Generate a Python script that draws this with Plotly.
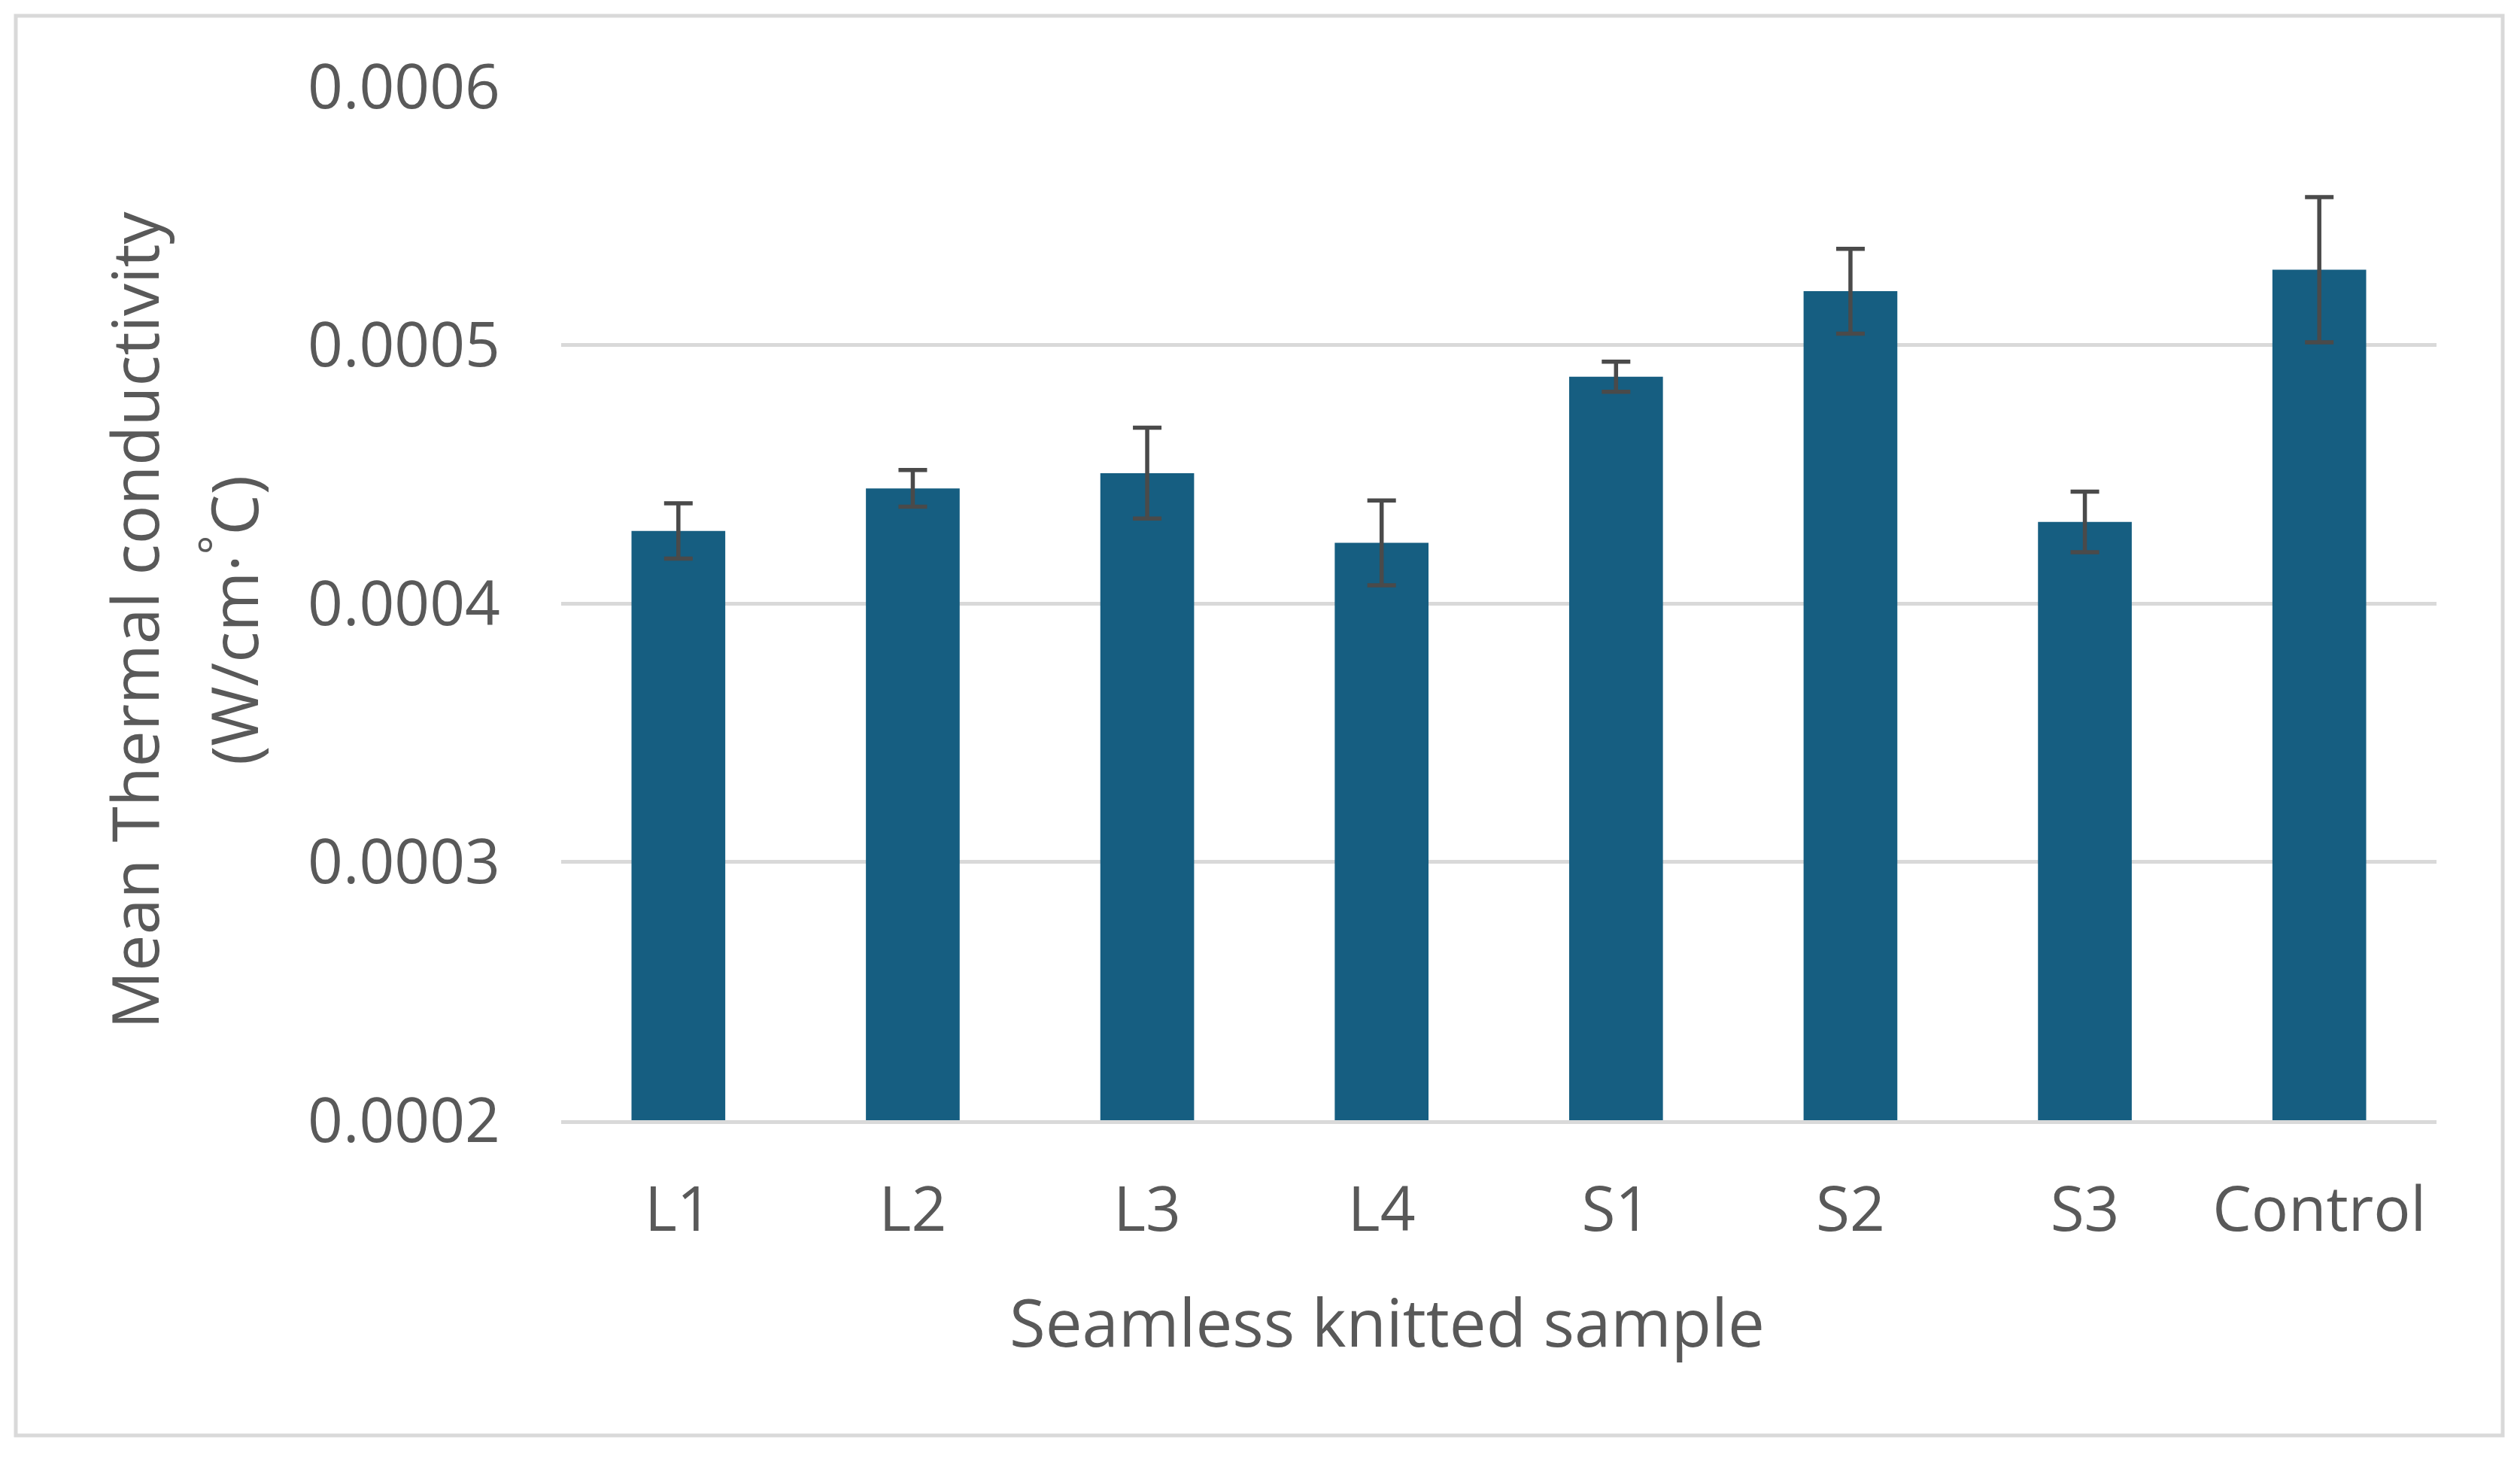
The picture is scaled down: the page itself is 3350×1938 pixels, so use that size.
import plotly.graph_objects as go

categories = ["L1", "L2", "L3", "L4", "S1", "S2", "S3", "Control"]
mean_k = [0.000428, 0.0004445, 0.0004504, 0.0004234, 0.0004877, 0.0005208, 0.0004315, 0.0005291]
err_k = [0.0000107, 0.0000071, 0.0000176, 0.0000164, 0.0000058, 0.0000164, 0.0000117, 0.0000281]
y_ticks = [0.0002, 0.0003, 0.0004, 0.0005, 0.0006]
y_ticklabels = ["0.0002", "0.0003", "0.0004", "0.0005", "0.0006"]
x_title = "Seamless knitted sample"
y_title_lines = ["Mean Thermal conductivity", "(W/cm·<sup>°</sup>C)"]

FONT = "Open Sans"
TXT = "#595959"

fig = go.Figure()
fig.add_trace(go.Bar(
    x=categories,
    y=mean_k,
    marker=dict(color="#165E81", line=dict(width=0)),
    width=0.4,
    error_y=dict(type="data", array=err_k, visible=True, color="#4A4A4A", thickness=5.5, width=19),
))

# page body has 8px default margin
OFF = 8
W, H = 3350 - OFF, 1938 - OFF
L, T = 746 - OFF, 115 - OFF
pw, ph = 2493, 1374
R, B = W - L - pw, H - T - ph

def px(xs):
    return (xs - OFF - L) / pw

def py(ys):
    return (T + ph - (ys - OFF)) / ph

fig.update_layout(
    width=W, height=H,
    margin=dict(l=L, r=R, t=T, b=B, autoexpand=False),
    paper_bgcolor="white",
    plot_bgcolor="white",
    showlegend=False,
    font=dict(family=FONT, size=82, color=TXT),
    shapes=[dict(type="rect", xref="paper", yref="paper",
                 x0=px(21), x1=px(3327), y0=py(1908), y1=py(21),
                 line=dict(color="#D9D9D9", width=5), fillcolor="rgba(0,0,0,0)", layer="below")],
    annotations=[
        dict(text=x_title, xref="paper", yref="paper", x=px(1844), y=py(1756),
             xanchor="center", yanchor="middle", showarrow=False,
             font=dict(family=FONT, size=87, color=TXT)),
        dict(text=y_title_lines[0], xref="paper", yref="paper", x=px(177), y=py(825),
             xanchor="center", yanchor="middle", showarrow=False, textangle=-90,
             font=dict(family=FONT, size=86, color=TXT)),
        dict(text=y_title_lines[1], xref="paper", yref="paper", x=px(305), y=py(825),
             xanchor="center", yanchor="middle", showarrow=False, textangle=-90,
             font=dict(family=FONT, size=86, color=TXT)),
    ],
)

fig.update_xaxes(
    automargin=False,
    showgrid=False,
    showline=True, linecolor="#D9D9D9", linewidth=5,
    ticks="", ticklabelstandoff=44,
    tickfont=dict(family=FONT, size=82, color=TXT),
)
fig.update_yaxes(
    automargin=False,
    range=[0.0002, 0.0006],
    tickvals=y_ticks, ticktext=y_ticklabels,
    showgrid=True, gridcolor="#D9D9D9", gridwidth=5,
    zeroline=False, showline=False, ticks="",
    ticklabelstandoff=80,
    tickfont=dict(family=FONT, size=82, color=TXT),
)

fig.write_html("out.html")
